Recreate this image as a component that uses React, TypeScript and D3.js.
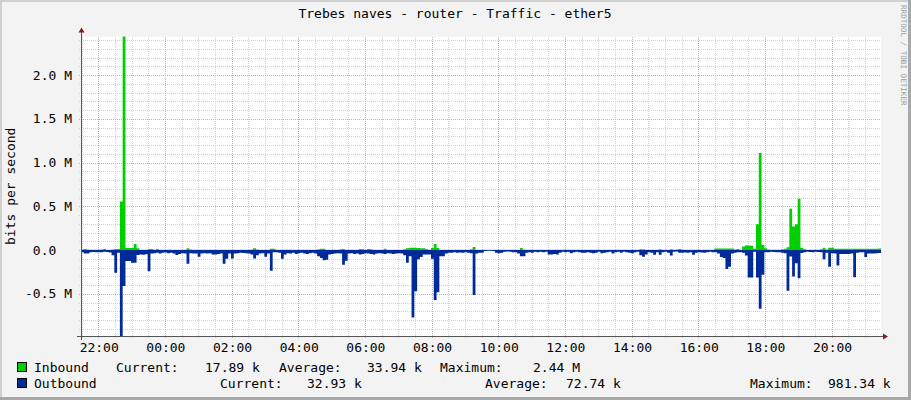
import React from 'react';
import * as d3 from 'd3';

// ---- data (kbit/s), one value per 5-minute step, starting 21:29 ----
const inboundK = [
  8, 12, 8, 5, 5, 5, 5, 8, 12, 5, 5, 8,
  12, 12, 555, 2440, 25, 25, 25, 70, 20, 5, 5, 5,
  12, 12, 5, 12, 5, 5, 5, 5, 5, 5, 5, 5,
  5, 5, 20, 8, 5, 5, 5, 5, 5, 5, 5, 5,
  5, 5, 5, 5, 5, 5, 5, 5, 5, 5, 5, 5,
  5, 8, 20, 8, 5, 5, 5, 5, 15, 15, 5, 5,
  5, 5, 5, 5, 5, 5, 5, 5, 5, 5, 5, 5,
  5, 10, 15, 15, 5, 5, 5, 5, 5, 10, 12, 5,
  5, 5, 5, 5, 12, 10, 5, 12, 10, 5, 5, 5,
  5, 15, 5, 5, 5, 5, 5, 5, 10, 20, 27, 27,
  27, 25, 20, 20, 10, 5, 25, 70, 25, 5, 5, 5,
  5, 5, 5, 5, 5, 5, 5, 5, 10, 35, 5, 5,
  5, 5, 5, 5, 5, 5, 5, 5, 5, 5, 5, 5,
  5, 5, 23, 8, 5, 5, 5, 5, 5, 5, 5, 5,
  5, 5, 5, 5, 5, 5, 5, 5, 5, 5, 5, 5,
  5, 5, 5, 5, 5, 5, 5, 5, 5, 5, 5, 5,
  5, 5, 5, 5, 5, 5, 5, 5, 5, 11, 11, 5,
  5, 5, 5, 5, 11, 5, 5, 5, 11, 5, 8, 12,
  8, 5, 5, 5, 5, 5, 5, 5, 5, 5, 5, 5,
  19, 19, 19, 19, 19, 19, 19, 8, 12, 5, 42, 53,
  53, 50, 15, 297, 1110, 60, 20, 8, 5, 5, 5, 5,
  10, 15, 34, 472, 270, 297, 587, 27, 10, 5, 5, 5,
  5, 5, 10, 27, 8, 27, 27, 15, 15, 15, 15, 15,
  15, 15, 15, 15, 15, 15, 15, 15, 15, 15, 15, 17.89,
];

const outboundK = [
  25, 38, 38, 25, 22, 23, 23, 25, 20, 22, 28, 60,
  259, 30, 981.34, 410, 125, 125, 145, 145, 55, 50, 52, 48,
  240, 40, 35, 30, 38, 30, 28, 35, 30, 40, 55, 45,
  35, 40, 156, 35, 38, 40, 76, 40, 35, 38, 35, 50,
  50, 45, 40, 156, 100, 40, 95, 38, 35, 30, 32, 35,
  40, 50, 95, 60, 40, 35, 76, 40, 236, 25, 25, 30,
  100, 50, 35, 40, 30, 45, 35, 30, 40, 45, 35, 30,
  40, 70, 90, 115, 110, 50, 45, 40, 35, 40, 168, 120,
  40, 35, 45, 40, 50, 45, 35, 40, 45, 50, 40, 35,
  40, 45, 35, 40, 45, 40, 35, 40, 60, 145, 70, 770,
  470, 105, 80, 50, 50, 50, 100, 570, 480, 70, 70, 40,
  30, 30, 25, 30, 28, 30, 25, 30, 35, 514, 40, 30,
  30, 10, 8, 8, 10, 30, 35, 30, 20, 15, 20, 25,
  25, 40, 70, 70, 30, 25, 30, 20, 25, 20, 25, 20,
  50, 50, 45, 50, 30, 20, 25, 20, 35, 25, 20, 25,
  30, 30, 25, 30, 35, 30, 20, 35, 30, 25, 20, 40,
  25, 20, 30, 20, 25, 30, 35, 25, 20, 60, 76, 50,
  25, 30, 53, 25, 53, 25, 20, 30, 61, 20, 15, 30,
  30, 28, 30, 25, 53, 30, 25, 28, 30, 25, 20, 25,
  25, 40, 80, 90, 217, 190, 40, 30, 25, 25, 30, 61,
  312, 312, 20, 312, 670, 280, 25, 25, 20, 22, 25, 25,
  30, 35, 465, 72, 300, 150, 320, 34, 25, 20, 22, 25,
  20, 22, 25, 103, 30, 190, 35, 40, 175, 45, 45, 45,
  45, 40, 310, 30, 25, 25, 80, 40, 40, 40, 35, 32.93,
];

const yMajorTicks = [-0.5, 0, 0.5, 1.0, 1.5, 2.0];
const yMajorLabels = ['-0.5 M', '0.0  ', '0.5 M', '1.0 M', '1.5 M', '2.0 M'];
const xTickLabels = ['22:00', '00:00', '02:00', '04:00', '06:00', '08:00', '10:00', '12:00', '14:00', '16:00', '18:00', '20:00'];

const title = 'Trebes naves - router - Traffic - ether5';
const yTitle = 'bits per second';
const watermark = 'RRDTOOL / TOBI OETIKER';

const seriesNames = ['Inbound', 'Outbound'];
const seriesColors = ['#00CF00', '#002A97'];
const statCurrent = ['17.89 k', '32.93 k'];
const statAverage = ['33.94 k', '72.74 k'];
const statMaximum = ['2.44 M', '981.34 k'];

const W = 911;
const H = 400;
const FONT = '"DejaVu Sans Mono", monospace';
const STEP_S = 300;
const start = new Date(2024, 0, 1, 21, 29, 0);
const end = new Date(start.getTime() + 86400 * 1000);

export default function App() {
  const left = 81, right = 881, top = 36.6, bottom = 336;
  const x = d3.scaleTime().domain([start, end]).range([left, right]);
  const y = d3.scaleLinear().domain([-981340, 2440000]).range([bottom, top]);

  const mk = (arr: number[], sign: number) => {
    const pts = arr.map((v, i) => ({ t: new Date(start.getTime() + i * STEP_S * 1000), v: sign * v * 1000 }));
    pts.push({ t: new Date(start.getTime() + arr.length * STEP_S * 1000), v: pts[pts.length - 1].v });
    return pts;
  };
  const area = d3.area<{ t: Date; v: number }>()
    .x(d => x(d.t))
    .y0(y(0))
    .y1(d => y(d.v))
    .curve(d3.curveStepAfter);

  const inPath = area(mk(inboundK, 1)) || '';
  const outPath = area(mk(outboundK, -1)) || '';

  const minorY = d3.range(-9, 25).map(k => k * 100000).filter(v => v % 500000 !== 0);
  const majorY = yMajorTicks.map(v => v * 1e6);
  const minorX = d3.timeMinute.every(30)!.range(start, end).filter(d => !(d.getMinutes() === 0 && d.getHours() % 2 === 0));
  const majorX = d3.timeHour.every(2)!.range(start, end);

  const fmt = d3.timeFormat('%H:%M');

  const rowY = [372, 388];
  const legendX = [
    { cur: 116, curV: 205, avg: 279, avgV: 367, max: 440, maxV: 533 },
    { cur: 220, curV: 307, avg: 485, avgV: 566, max: 750, maxV: 828 },
  ];

  return (
    <svg width={W} height={H} style={{ position: 'absolute', left: 0, top: 0, display: 'block' }}
      fontFamily={FONT}>
      <rect x={0} y={0} width={W} height={H} fill="#F3F3F3" />
      <rect x={0} y={0} width={W} height={2} fill="#CFCFCF" />
      <rect x={0} y={0} width={2} height={H} fill="#CFCFCF" />
      <rect x={W - 3} y={0} width={3} height={H} fill="#A8A8A8" />
      <rect x={0} y={H - 3} width={W} height={3} fill="#A8A8A8" />

      <rect x={left} y={top} width={right - left} height={bottom - top} fill="#FFFFFF" />

      {/* minor grid */}
      <g stroke="#D2D2D2" strokeWidth={1} strokeDasharray="1,1" shapeRendering="crispEdges">
        {minorY.map(v => (
          <line key={'my' + v} x1={left - 2} x2={right} y1={Math.round(y(v)) + 0.5} y2={Math.round(y(v)) + 0.5} />
        ))}
        {minorX.map(d => (
          <line key={'mx' + d.getTime()} x1={Math.round(x(d)) + 0.5} x2={Math.round(x(d)) + 0.5} y1={top} y2={bottom + 2} />
        ))}
      </g>
      {/* major grid */}
      <g stroke="#F2A0A0" strokeWidth={1} strokeDasharray="1,1" shapeRendering="crispEdges">
        {majorY.map(v => (
          <line key={'My' + v} x1={left - 2} x2={right} y1={Math.round(y(v)) + 0.5} y2={Math.round(y(v)) + 0.5} />
        ))}
        {majorX.map(d => (
          <line key={'Mx' + d.getTime()} x1={Math.round(x(d)) + 0.5} x2={Math.round(x(d)) + 0.5} y1={top} y2={bottom + 2} />
        ))}
      </g>

      {/* data */}
      <path d={inPath} fill={seriesColors[0]} />
      <path d={outPath} fill={seriesColors[1]} />

      {/* axes */}
      <g stroke="#555555" strokeWidth={1} shapeRendering="crispEdges">
        <line x1={left - 4} x2={right + 3} y1={bottom + 0.5} y2={bottom + 0.5} />
        <line x1={left + 0.5} x2={left + 0.5} y1={bottom + 4} y2={top - 5} />
      </g>
      <path d={`M${right + 2},${bottom - 2.5} L${right + 7},${bottom + 0.5} L${right + 2},${bottom + 3.5} Z`} fill="#7F1F1F" />
      <path d={`M${left - 2.5},${top - 4} L${left + 0.5},${top - 9} L${left + 3.5},${top - 4} Z`} fill="#7F1F1F" />

      {/* y labels */}
      <g fontSize={13} fill="#000" textAnchor="end">
        {majorY.map((v, i) => (
          <text key={'yl' + v} x={72} y={y(v) + 4.5} style={{ whiteSpace: 'pre' }}>{yMajorLabels[i]}</text>
        ))}
      </g>
      {/* x labels */}
      <g fontSize={13} fill="#000" textAnchor="middle">
        {majorX.map((d, i) => (
          <text key={'xl' + i} x={x(d) + 1} y={352}>{xTickLabels[i] ?? fmt(d)}</text>
        ))}
      </g>

      {/* title */}
      <text x={455} y={18} fontSize={13} textAnchor="middle" fill="#000">{title}</text>
      <text transform={`translate(15,${(top + bottom) / 2}) rotate(-90)`} fontSize={13} textAnchor="middle" fill="#000">{yTitle}</text>
      <text transform="translate(900.5,5) rotate(90)" fontSize={7.6} fill="#A0A0A0">{watermark}</text>

      {/* legend */}
      <g fontSize={13} fill="#000">
        {seriesNames.map((name, r) => (
          <g key={name}>
            <rect x={17.5} y={rowY[r] - 9.5} width={9} height={9} fill={seriesColors[r]} stroke="#000" strokeWidth={1} />
            <text x={34} y={rowY[r]}>{name}</text>
            <text x={legendX[r].cur} y={rowY[r]}>Current:</text>
            <text x={legendX[r].curV} y={rowY[r]}>{statCurrent[r]}</text>
            <text x={legendX[r].avg} y={rowY[r]}>Average:</text>
            <text x={legendX[r].avgV} y={rowY[r]}>{statAverage[r]}</text>
            <text x={legendX[r].max} y={rowY[r]}>Maximum:</text>
            <text x={legendX[r].maxV} y={rowY[r]}>{statMaximum[r]}</text>
          </g>
        ))}
      </g>
    </svg>
  );
}
